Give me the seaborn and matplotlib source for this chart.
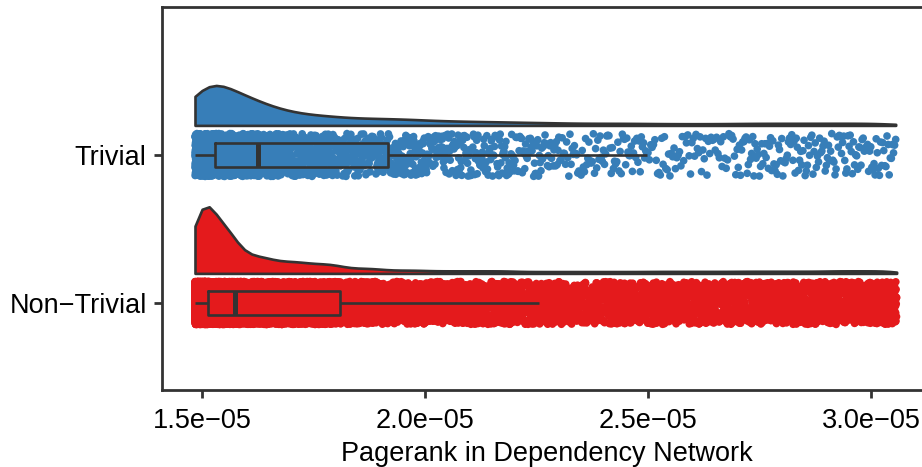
import numpy as np
import pandas as pd
import matplotlib
matplotlib.use("Agg")
import matplotlib.pyplot as plt
import matplotlib.transforms as mtransforms
from matplotlib.ticker import FuncFormatter
import seaborn as sns

groups = ["Trivial", "Non\u2212Trivial"]
colors = ["#377EB8", "#E41A1C"]

# pagerank bins (units of 1e-5) and number of packages in each bin
trivial_edges = [1.484, 1.529, 1.626, 1.70, 1.80, 1.917, 2.0, 2.1, 2.2, 2.3, 2.5, 2.7, 2.9, 3.058]
trivial_counts = [600, 600, 240, 200, 160, 100, 85, 70, 55, 80, 65, 80, 65]

nontrivial_edges = [1.484, 1.513, 1.574, 1.65, 1.73, 1.81, 1.9, 2.0, 2.1, 2.2, 2.3, 2.5, 2.7, 2.9, 3.058]
nontrivial_counts = [4000, 4000, 1750, 1250, 1000, 600, 420, 330, 330, 240, 480, 520, 560, 520]


def expand(edges, counts):
    vals = [np.linspace(lo, hi, n, endpoint=False)
            for lo, hi, n in zip(edges[:-1], edges[1:], counts)]
    return np.concatenate(vals) * 1e-5


df = pd.concat([
    pd.DataFrame({"group": groups[0], "pagerank": expand(trivial_edges, trivial_counts)}),
    pd.DataFrame({"group": groups[1], "pagerank": expand(nontrivial_edges, nontrivial_counts)}),
])

sns.set_theme(style="ticks")
plt.rcParams["font.family"] = ["Liberation Sans", "DejaVu Sans"]

fig = plt.figure(figsize=(9.22, 4.67), dpi=100)
ax = fig.add_axes([162 / 922, 1 - 390 / 467, 770 / 922, 383 / 467])

# rain
np.random.seed(7)
sns.stripplot(data=df, x="pagerank", y="group", hue="group", order=groups,
              hue_order=groups, palette=colors, jitter=0.145, size=5.5,
              linewidth=0, legend=False, zorder=0.5, ax=ax)

# clouds: half violins, one per group, nudged above the rain
cloud_height = [0.27, 0.45]
cloud_bw = [0.55, 0.4]
for g, col, h, bw in zip(groups, colors, cloud_height, cloud_bw):
    n0 = len(ax.collections)
    sns.violinplot(data=df[df["group"] == g], x="pagerank", y="group", order=groups,
                   split=True, inner=None, cut=0, width=h, bw_adjust=bw,
                   color=col, linecolor="#333333", linewidth=1.9, saturation=1, ax=ax)
    nudge = mtransforms.Affine2D().translate(0, -0.2 - h / 2) + ax.transData
    for c in ax.collections[n0:]:
        c.set_transform(nudge)
        c.set_facecolor(col)

# box
sns.boxplot(data=df, x="pagerank", y="group", order=groups, width=0.16,
            fill=False, color="#333333", linewidth=1.9, showcaps=False,
            showfliers=False, medianprops={"linewidth": 3.6}, ax=ax)

ax.set_xlim(1.410e-5, 3.137e-5)
ax.set_ylim(1.588, -1.0)
ax.set_xticks([1.5e-5, 2.0e-5, 2.5e-5, 3.0e-5])
ax.xaxis.set_major_formatter(FuncFormatter(lambda v, p: f"{v:.1e}".replace("-", "\u2212")))
ax.set_xlabel("Pagerank in Dependency Network", fontsize=19.5, color="black", labelpad=5)
ax.set_ylabel("")

for s in ["top", "left", "bottom"]:
    ax.spines[s].set_color("#333333")
    ax.spines[s].set_linewidth(2)
ax.spines["right"].set_visible(False)
ax.tick_params(length=6, width=2, color="#333333", labelsize=19.5,
               labelcolor="black", pad=5)
ax.tick_params(axis="x", pad=7)

fig.savefig("out.png", dpi=100)
